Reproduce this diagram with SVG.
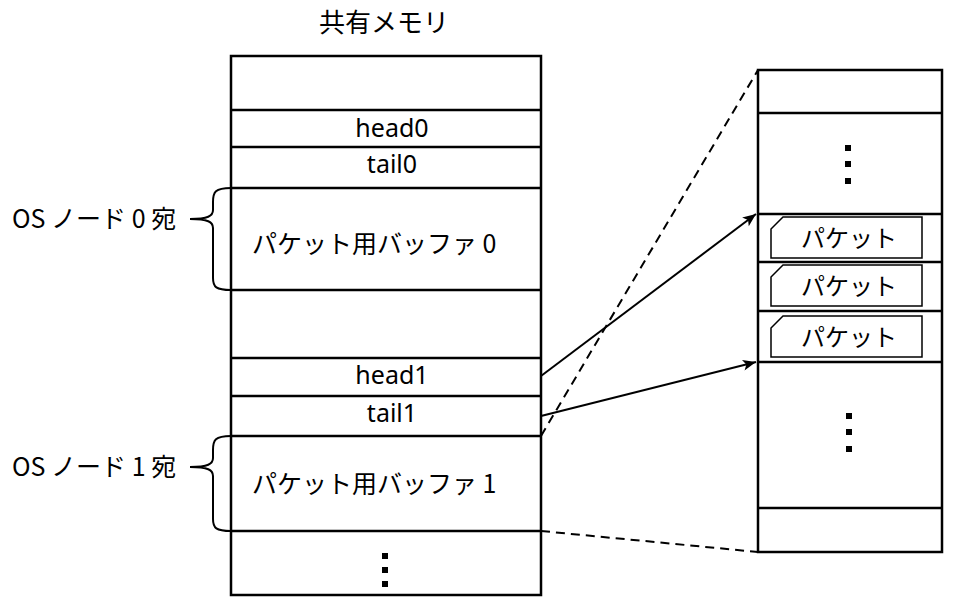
<svg xmlns="http://www.w3.org/2000/svg" width="960" height="607" viewBox="0 0 960 607">
<defs>
<style>
.box{fill:#fff;stroke:#000;stroke-width:2.5}
.ln{stroke:#000;stroke-width:2.5;fill:none}
.thin{stroke:#000;stroke-width:2;fill:none}
.t{font-family:"Noto Sans CJK JP","Noto Sans",sans-serif;font-size:25px;fill:#000}
.l{font-family:"Noto Sans","Noto Sans CJK JP",sans-serif;font-size:25px;fill:#000}
.c{text-anchor:middle}
.dash{stroke:#000;stroke-width:2;stroke-dasharray:9,6;fill:none}
.dot{fill:#000}
.pk{fill:#fff;stroke:#000;stroke-width:1.5}
</style>
<marker id="ah2" viewBox="0 0 12 10" refX="12" refY="5" markerWidth="14" markerHeight="11" orient="auto" markerUnits="userSpaceOnUse">
<path d="M0,0 L12,5 L0,10 L3,5 z" fill="#000"/>
</marker>
</defs>
<rect width="960" height="607" fill="#fff"/>

<text class="t c" x="384" y="32" style="font-size:26px">共有メモリ</text>

<g id="shared-memory">
<rect class="box" x="231" y="56" width="310" height="539"/>
<line class="ln" x1="231" y1="110" x2="541" y2="110"/>
<line class="ln" x1="231" y1="147" x2="541" y2="147"/>
<line class="ln" x1="231" y1="188" x2="541" y2="188"/>
<line class="ln" x1="231" y1="290" x2="541" y2="290"/>
<line class="ln" x1="231" y1="358" x2="541" y2="358"/>
<line class="ln" x1="231" y1="396" x2="541" y2="396"/>
<line class="ln" x1="231" y1="436" x2="541" y2="436"/>
<line class="ln" x1="231" y1="531" x2="541" y2="531"/>
</g>
<g id="head0"><text class="l c" x="392" y="137">head0</text></g>
<g id="tail0"><text class="l c" x="392" y="173">tail0</text></g>
<g id="buffer0"><text class="t" x="252" y="253">パケット用バッファ 0</text></g>
<g id="head1"><text class="l c" x="392" y="384">head1</text></g>
<g id="tail1"><text class="l c" x="392" y="422">tail1</text></g>
<g id="buffer1"><text class="t" x="252" y="493">パケット用バッファ 1</text></g>
<g id="dots-left">
<rect class="dot" x="382" y="553" width="6" height="6"/>
<rect class="dot" x="382" y="567" width="6" height="6"/>
<rect class="dot" x="382" y="581" width="6" height="6"/>
</g>

<g id="label0">
<text class="t" x="12" y="228">OS ノード 0 宛</text>
<path class="thin" d="M231,188 C215,188 213,192 213,202 L213,210 C213,216 208,219 190,219 C208,219 213,222 213,228 L213,278 C213,287 216,290 231,290"/>
</g>
<g id="label1">
<text class="t" x="12" y="476">OS ノード 1 宛</text>
<path class="thin" d="M231,436 C215,436 213,440 213,450 L213,458 C213,464 208,467 190,467 C208,467 213,470 213,476 L213,519 C213,528 216,531 231,531"/>
</g>

<g id="packet-area">
<rect class="box" x="758" y="70" width="184" height="482"/>
<line class="ln" x1="758" y1="113" x2="942" y2="113"/>
<line class="ln" x1="758" y1="214" x2="942" y2="214"/>
<line class="ln" x1="758" y1="262" x2="942" y2="262"/>
<line class="ln" x1="758" y1="311" x2="942" y2="311"/>
<line class="ln" x1="758" y1="362" x2="942" y2="362"/>
<line class="ln" x1="758" y1="508" x2="942" y2="508"/>
</g>
<g id="dots-right-top">
<rect class="dot" x="845" y="145" width="6" height="6"/>
<rect class="dot" x="845" y="161" width="6" height="6"/>
<rect class="dot" x="845" y="178" width="6" height="6"/>
</g>
<g id="dots-right-bottom">
<rect class="dot" x="846" y="413" width="6" height="6"/>
<rect class="dot" x="846" y="429" width="6" height="6"/>
<rect class="dot" x="846" y="446" width="6" height="6"/>
</g>
<g id="packet1">
<path class="pk" d="M783,217 L922,217 L922,258 L771,258 L771,229 Z"/>
<text class="t c" x="849" y="247" style="font-size:24px">パケット</text>
</g>
<g id="packet2">
<path class="pk" d="M783,265 L922,265 L922,306 L771,306 L771,277 Z"/>
<text class="t c" x="849" y="295" style="font-size:24px">パケット</text>
</g>
<g id="packet3">
<path class="pk" d="M783,316 L922,316 L922,357 L771,357 L771,328 Z"/>
<text class="t c" x="849" y="346" style="font-size:24px">パケット</text>
</g>

<g id="connectors">
<line class="thin" x1="541" y1="376" x2="756" y2="214" marker-end="url(#ah2)"/>
<line class="thin" x1="541" y1="416" x2="756" y2="362" marker-end="url(#ah2)"/>
<line class="dash" x1="541" y1="436" x2="758" y2="70"/>
<line class="dash" x1="541" y1="531" x2="758" y2="552"/>
</g>
</svg>
